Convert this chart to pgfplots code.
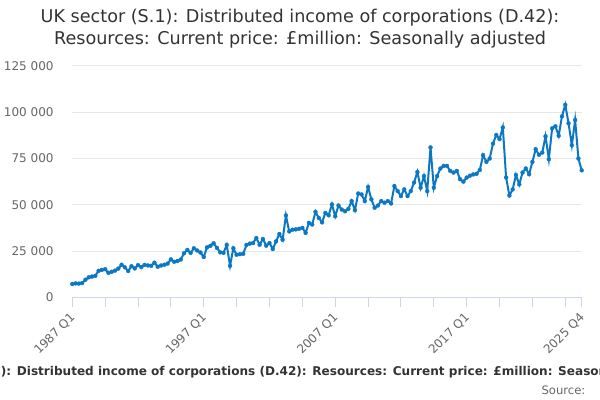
\documentclass[border=0pt]{standalone}
\usepackage{pgfplots}
\pgfplotsset{compat=1.18}
\usepackage{pgfplotstable}
\usepackage{fontspec}
\setmainfont{DejaVu Sans}
\definecolor{lineblue}{HTML}{0C78C4}
\definecolor{axisc}{HTML}{CCD6EB}
\definecolor{gridc}{HTML}{E6E6E6}
\definecolor{labc}{HTML}{666666}
\definecolor{titc}{HTML}{333333}
\pgfplotstableread{
q v
0 7200
1 7500
2 7400
3 7700
4 9500
5 10800
6 11200
7 11600
8 14300
9 14800
10 15200
11 13200
12 13800
13 14400
14 15500
15 17600
16 16200
17 14200
18 16800
19 15600
20 17400
21 16300
22 17500
23 17200
24 17000
25 18700
26 16500
27 17200
28 17600
29 18200
30 20500
31 19200
32 19600
33 20400
34 23800
35 25600
36 24000
37 26500
38 25300
39 24200
40 21800
41 27000
42 27800
43 29200
44 26700
45 24300
46 24000
47 28300
48 17000
49 26500
50 23000
51 23300
52 23500
53 28300
54 29000
55 29300
56 32000
57 28400
58 31500
59 27900
60 29300
61 26100
62 30200
63 34200
64 31100
65 44200
66 35600
67 36500
68 36700
69 37000
70 37500
71 34800
72 40200
73 39300
74 46200
75 42900
76 40500
77 45600
78 44300
79 50200
80 43800
81 49600
82 47400
83 46500
84 47800
85 52000
86 47100
87 56100
88 55600
89 52000
90 59600
91 52900
92 48400
93 49600
94 52000
95 51100
96 52000
97 50700
98 60100
99 57400
100 54700
101 58300
102 54700
103 57400
104 62000
105 67700
106 59200
107 65500
108 57400
109 81000
110 59200
111 65500
112 69600
113 71000
114 71000
115 68300
116 67400
117 68300
118 63800
119 62500
120 64700
121 65700
122 66400
123 66700
124 68800
125 76800
126 73200
127 75000
128 83000
129 87700
130 85500
131 91800
132 64700
133 55000
134 58300
135 66100
136 61000
137 67400
138 69600
139 66500
140 73200
141 80000
142 77000
143 78200
144 87000
145 74600
146 91300
147 92400
148 87300
149 97800
150 104000
151 94000
152 82200
153 95800
154 75000
155 68600
}\datatable
\begin{document}
\begin{tikzpicture}
\useasboundingbox (-54.225pt,-77.025pt) rectangle (395.775pt,222.975pt);
\begin{axis}[
  at={(0pt,0pt)}, anchor=south west,
  scale only axis,
  width=382.05pt, height=173.5pt,
  xmin=0, xmax=155, ymin=0, ymax=125000,
  clip=false,
  scaled y ticks=false,
  axis x line*=bottom, axis y line*=left,
  x axis line style={draw=axisc, line width=0.75pt},
  y axis line style={draw=none},
  xtick={0,10,20,30,40,50,60,70,80,90,100,110,120,130,140,150,155},
  xticklabels={1987 Q1,,,,1997 Q1,,,,2007 Q1,,,,2017 Q1,,,,2025 Q4},
  ytick={0,25000,50000,75000,100000,125000},
  yticklabels={0,25 000,50 000,75 000,100 000,125 000},
  tick align=outside,
  x tick style={draw=axisc, line width=0.75pt},
  major tick length=7.5pt,
  y tick style={draw=none},
  ymajorgrids,
  major grid style={draw=gridc, line width=0.75pt},
  xticklabel style={font=\fontsize{9pt}{11pt}\selectfont, text=labc, yshift=-4pt, xshift=3pt, rotate=45, anchor=east},
  yticklabel style={font=\fontsize{9pt}{11pt}\selectfont, text=labc, anchor=east, xshift=-3pt},
]
\addplot[color=lineblue, line width=1.5pt, mark=*, mark size=1.5pt, mark options={fill=lineblue, draw=lineblue, line width=0.2pt}] table[x=q, y=v] {\datatable};
\end{axis}
\node[align=center, text=titc, font=\fontsize{13.2pt}{16.5pt}\selectfont] at (170.8pt,201.3pt) {UK sector (S.1): Distributed income of corporations (D.42):\\Resources: Current price: £million: Seasonally adjusted};
\node[text=titc, font=\bfseries\fontsize{9.05pt}{11pt}\selectfont] at (170.3pt,-56pt) {UK sector (S.1): Distributed income of corporations (D.42): Resources: Current price: £million: Seasonally adjusted};
\node[anchor=east, text=labc, font=\fontsize{8.7pt}{10pt}\selectfont] at (388.3pt,-69.5pt) {Source:};
\end{tikzpicture}
\end{document}
